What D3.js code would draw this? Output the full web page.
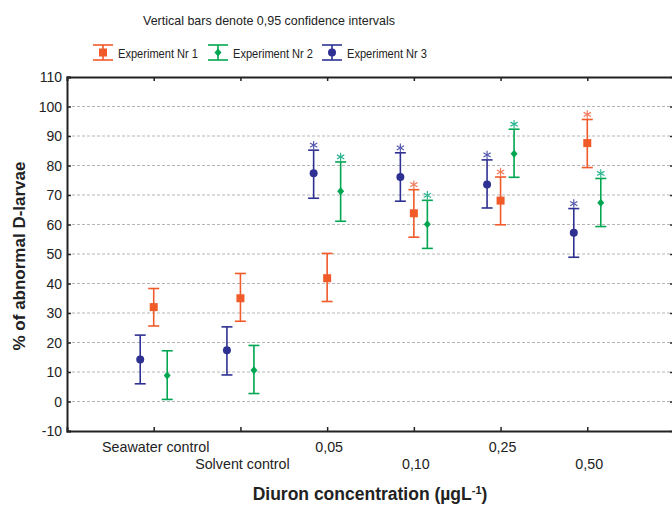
<!DOCTYPE html>
<html>
<head>
<meta charset="utf-8">
<script src="https://cdn.jsdelivr.net/npm/d3@7"></script>
<style>
  body { margin: 0; background: #fff; }
  text { font-family: "Liberation Sans", Arial, sans-serif; fill: #222; }
</style>
</head>
<body>
<svg></svg>
<script>
var svg_width = 672;
var svg_height = 505;

// categories on the x axis
var categories = ["Seawater control", "Solvent control", "0,05", "0,10", "0,25", "0,50"];
var series_names = ["Experiment Nr 1", "Experiment Nr 2", "Experiment Nr 3"];
var series_colors = ["#f15a29", "#00a651", "#2e3192"];
var star_colors = ["#f2795a", "#2bb58f", "#5558ad"];
var series_order = ["Experiment Nr 3", "Experiment Nr 1", "Experiment Nr 2"];  // left to right inside a group

// means and 0,95 confidence limits
var exp1_mean = [32.0, 35.0, 41.8, 63.8, 68.1, 87.6];
var exp1_low  = [25.6, 27.2, 33.9, 55.7, 59.9, 79.3];
var exp1_high = [38.3, 43.4, 50.2, 71.8, 76.1, 95.6];
var exp1_sig  = [0, 0, 0, 1, 1, 1];

var exp2_mean = [8.8, 10.6, 71.3, 60.1, 84.0, 67.4];
var exp2_low  = [0.7, 2.7, 61.1, 51.9, 76.0, 59.3];
var exp2_high = [17.2, 19.0, 81.2, 68.2, 92.3, 75.6];
var exp2_sig  = [0, 0, 1, 1, 1, 1];

var exp3_mean = [14.2, 17.4, 77.4, 76.1, 73.6, 57.2];
var exp3_low  = [6.0, 9.0, 68.9, 67.9, 65.6, 48.9];
var exp3_high = [22.5, 25.3, 85.2, 84.3, 81.9, 65.4];
var exp3_sig  = [0, 0, 1, 1, 1, 1];

var y_ticks = [-10, 0, 10, 20, 30, 40, 50, 60, 70, 80, 90, 100, 110];
var grid_ticks = [0, 10, 20, 30, 40, 50, 60, 70, 80, 90, 100];

var all_series = [
  {name: series_names[0], mean: exp1_mean, low: exp1_low, high: exp1_high, sig: exp1_sig, color: series_colors[0], star: star_colors[0], shape: "square"},
  {name: series_names[1], mean: exp2_mean, low: exp2_low, high: exp2_high, sig: exp2_sig, color: series_colors[1], star: star_colors[1], shape: "diamond"},
  {name: series_names[2], mean: exp3_mean, low: exp3_low, high: exp3_high, sig: exp3_sig, color: series_colors[2], star: star_colors[2], shape: "circle"}
];

var plot_left = 67, plot_right = 674, plot_top = 77, plot_bottom = 431;

var svg = d3.select("svg").attr("width", svg_width).attr("height", svg_height);

var xScale = d3.scalePoint().domain(categories).range([plot_left, plot_right]).padding(1);
var offScale = d3.scalePoint().domain(series_order).range([-13.5, 13.5]);
var yScale = d3.scaleLinear().domain([-10, 110]).range([plot_bottom, plot_top]);

// gridlines
svg.append("g")
  .selectAll("line")
  .data(grid_ticks)
  .enter()
  .append("line")
  .attr("x1", plot_left)
  .attr("x2", plot_right)
  .attr("y1", function(d) {return yScale(d);})
  .attr("y2", function(d) {return yScale(d);})
  .attr("stroke", "#b5b5b5")
  .attr("stroke-width", 1)
  .attr("stroke-dasharray", "3,2");

// axes, ticks pointing inward
var leftAxis = svg.append("g").attr("transform", "translate(" + plot_left + ",0)")
  .call(d3.axisRight(yScale).tickValues(y_ticks).tickSize(4).tickFormat(""));
var rightAxis = svg.append("g").attr("transform", "translate(" + plot_right + ",0)")
  .call(d3.axisLeft(yScale).tickValues(y_ticks).tickSize(4).tickFormat(""));
var topAxis = svg.append("g").attr("transform", "translate(0," + plot_top + ")")
  .call(d3.axisBottom(xScale).tickSize(4).tickFormat(""));
var bottomAxis = svg.append("g").attr("transform", "translate(0," + plot_bottom + ")")
  .call(d3.axisTop(xScale).tickSize(4).tickFormat(""));

[leftAxis, rightAxis, topAxis, bottomAxis].forEach(function(g) {
  g.selectAll("path").attr("stroke", "#222").attr("stroke-width", 2);
  g.selectAll(".tick line").attr("stroke", "#222").attr("stroke-width", 1.5);
});
rightAxis.select("path").remove();

// y tick labels
svg.append("g")
  .selectAll("text")
  .data(y_ticks)
  .enter()
  .append("text")
  .attr("x", plot_left - 5)
  .attr("y", function(d) {return yScale(d);})
  .attr("dy", "0.36em")
  .attr("text-anchor", "end")
  .style("font-size", "14px")
  .text(function(d) {return d;});

// x tick labels, staggered on two rows
svg.append("g")
  .selectAll("text")
  .data(categories)
  .enter()
  .append("text")
  .attr("x", function(d) {return xScale(d) + 2;})
  .attr("y", function(d, i) {return i % 2 == 0 ? 452 : 469;})
  .attr("text-anchor", "middle")
  .style("font-size", "14.3px")
  .text(function(d) {return d;});

// axis titles
var xTitle = svg.append("text")
  .attr("x", 370)
  .attr("y", 500)
  .attr("text-anchor", "middle")
  .style("font-size", "17.5px")
  .style("font-weight", "bold");
xTitle.append("tspan").text("Diuron concentration (\u00b5gL");
xTitle.append("tspan").attr("dy", -6).style("font-size", "11px").text("-1");
xTitle.append("tspan").attr("dy", 6).text(")");

svg.append("text")
  .attr("transform", "translate(25,256) rotate(-90)")
  .attr("text-anchor", "middle")
  .style("font-size", "17px")
  .style("font-weight", "bold")
  .text("% of abnormal D-larvae");

// title
svg.append("text")
  .attr("x", 269)
  .attr("y", 25)
  .attr("text-anchor", "middle")
  .attr("textLength", 252)
  .attr("lengthAdjust", "spacingAndGlyphs")
  .style("font-size", "13.5px")
  .text("Vertical bars denote 0,95 confidence intervals");

function draw_marker(g, shape, color, cx, cy) {
  if (shape == "square") {
    g.append("rect").attr("x", cx - 4).attr("y", cy - 4).attr("width", 8).attr("height", 8).attr("fill", color);
  } else if (shape == "circle") {
    g.append("circle").attr("cx", cx).attr("cy", cy).attr("r", 4).attr("fill", color);
  } else {
    g.append("path")
      .attr("d", "M" + cx + "," + (cy - 4) + "L" + (cx + 3.5) + "," + cy + "L" + cx + "," + (cy + 4) + "L" + (cx - 3.5) + "," + cy + "Z")
      .attr("fill", color);
  }
}

function draw_errorbar(g, color, cx, ytop, ybot, cap) {
  g.append("line").attr("x1", cx).attr("x2", cx).attr("y1", ytop).attr("y2", ybot)
    .attr("stroke", color).attr("stroke-width", 1.6);
  [ytop, ybot].forEach(function(yy) {
    g.append("line").attr("x1", cx - cap).attr("x2", cx + cap).attr("y1", yy).attr("y2", yy)
      .attr("stroke", color).attr("stroke-width", 1.6);
  });
}

function draw_star(g, color, cx, cy) {
  var r = 4.2;
  for (var k = 0; k < 3; k++) {
    var a = Math.PI / 2 + k * Math.PI / 3;
    g.append("line")
      .attr("x1", cx + r * Math.cos(a)).attr("y1", cy + r * Math.sin(a))
      .attr("x2", cx - r * Math.cos(a)).attr("y2", cy - r * Math.sin(a))
      .attr("stroke", color).attr("stroke-width", 1.2);
  }
}

// error bars, markers and asterisks
all_series.forEach(function(s) {
  var g = svg.append("g");
  categories.forEach(function(c, i) {
    var cx = xScale(c) + offScale(s.name);
    draw_errorbar(g, s.color, cx, yScale(s.high[i]), yScale(s.low[i]), 5.5);
    draw_marker(g, s.shape, s.color, cx, yScale(s.mean[i]));
    if (s.sig[i]) {
      draw_star(g, s.star, cx, yScale(s.high[i]) - 5);
    }
  });
});

// legend
var legend_x = [93, 208, 322];
all_series.forEach(function(s, i) {
  var g = svg.append("g");
  var cx = legend_x[i] + 10;
  draw_errorbar(g, s.color, cx, 45, 60, 10);
  draw_marker(g, s.shape, s.color, cx, 52.5);
  g.append("text")
    .attr("x", legend_x[i] + 25)
    .attr("y", 57.5)
    .attr("textLength", 80)
    .attr("lengthAdjust", "spacingAndGlyphs")
    .style("font-size", "13px")
    .text(s.name);
});
</script>
</body>
</html>
